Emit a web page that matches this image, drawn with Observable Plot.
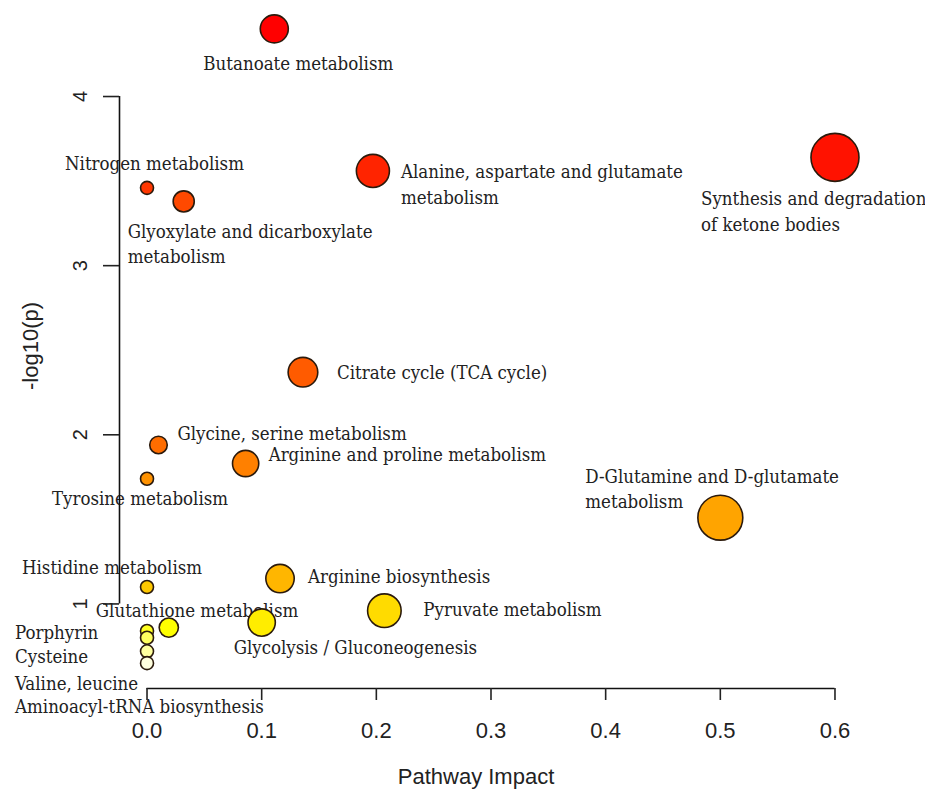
<!DOCTYPE html>
<html>
<head>
<meta charset="utf-8">
<script src="https://cdn.jsdelivr.net/npm/d3@7"></script>
<script src="https://cdn.jsdelivr.net/npm/@observablehq/plot@0.6"></script>
<style>
  html, body { margin: 0; padding: 0; background: #ffffff; }
  #chart svg { display: block; }
</style>
</head>
<body>
<div id="chart"></div>
<script>
// ---------------- data ----------------
const pathways = [
  "Butanoate metabolism",
  "Synthesis and degradation of ketone bodies",
  "Alanine, aspartate and glutamate metabolism",
  "Nitrogen metabolism",
  "Glyoxylate and dicarboxylate metabolism",
  "Citrate cycle (TCA cycle)",
  "Glycine, serine metabolism",
  "Arginine and proline metabolism",
  "Tyrosine metabolism",
  "D-Glutamine and D-glutamate metabolism",
  "Arginine biosynthesis",
  "Histidine metabolism",
  "Pyruvate metabolism",
  "Glycolysis / Gluconeogenesis",
  "Glutathione metabolism",
  "Porphyrin",
  "Cysteine",
  "Valine, leucine",
  "Aminoacyl-tRNA biosynthesis"
];
const impact = [0.111, 0.600, 0.197, 0.000, 0.032, 0.136, 0.010, 0.086, 0.000, 0.500,
                0.116, 0.000, 0.207, 0.100, 0.019, 0.000, 0.000, 0.000, 0.000];
const negLogP = [4.40, 3.64, 3.56, 3.46, 3.38, 2.37, 1.94, 1.83, 1.74, 1.51,
                 1.15, 1.10, 0.96, 0.89, 0.86, 0.84, 0.80, 0.72, 0.65];
const xTicks = [0, 0.1, 0.2, 0.3, 0.4, 0.5, 0.6];
const yTicks = [1, 2, 3, 4];
const xLabel = "Pathway Impact";
const yLabel = "-log10(p)";

// ---------------- label layout (pixel offsets from the circle centre) ----------------
const labelLayout = {
  "Butanoate metabolism": {dx: 24, dy: 33, anchor: "middle"},
  "Synthesis and degradation of ketone bodies": {dx: -134, dy: 52.5, split: "of ketone"},
  "Alanine, aspartate and glutamate metabolism": {dx: 28, dy: 12, split: "metabolism"},
  "Nitrogen metabolism": {dx: -82, dy: -26},
  "Glyoxylate and dicarboxylate metabolism": {dx: -56, dy: 41, split: "metabolism"},
  "Citrate cycle (TCA cycle)": {dx: 34, dy: -1},
  "Glycine, serine metabolism": {dx: 19, dy: -13},
  "Arginine and proline metabolism": {dx: 23, dy: -11},
  "Tyrosine metabolism": {dx: -95, dy: 18},
  "D-Glutamine and D-glutamate metabolism": {dx: -135, dy: -30, split: "metabolism"},
  "Arginine biosynthesis": {dx: 28, dy: -4},
  "Histidine metabolism": {dx: -125, dy: -21},
  "Pyruvate metabolism": {dx: 39, dy: -3},
  "Glycolysis / Gluconeogenesis": {dx: -28, dy: 23},
  "Glutathione metabolism": {dx: -73, dy: -19},
  "Porphyrin": {dx: -132, dy: 0},
  "Cysteine": {dx: -132, dy: 17},
  "Valine, leucine": {dx: -132, dy: 31},
  "Aminoacyl-tRNA biosynthesis": {dx: -132, dy: 42}
};

// ---------------- helpers ----------------
// R's heat.colors(n)
function heatColors(n) {
  const j = Math.floor(n / 4), i = n - j;
  const out = [];
  for (let k = 0; k < i; k++) {
    const h = i > 1 ? (k / (i - 1)) / 6 : 0;
    out.push(d3.rgb(255, Math.round(255 * h * 6), 0).formatHex());
  }
  for (let k = 0; k < j; k++) {
    const s = j > 1 ? (1 - 1 / (2 * j)) - k * ((1 - 1 / j) / (j - 1)) : 0.5;
    out.push(d3.rgb(255, 255, Math.round(255 * (1 - s))).formatHex());
  }
  return out;
}
function rExtend([a, b]) { const e = (b - a) * 0.04; return [a - e, b + e]; }

const data = pathways.map((name, i) => ({name, impact: impact[i], p: negLogP[i]}));
const order = [...data].sort((a, b) => b.p - a.p).map(d => d.name);
const xDomain = rExtend(d3.extent(impact));
const yDomain = rExtend(d3.extent(negLogP));

const serif = "'DejaVu Serif Condensed', 'DejaVu Serif', serif";
const sans = "'Liberation Sans', Arial, Helvetica, sans-serif";

const labelMarks = data.map(d => {
  const L = labelLayout[d.name];
  const txt = L.split ? d.name.replace(" " + L.split, "\n" + L.split) : d.name;
  return Plot.text([d], {
    x: "impact", y: "p", text: () => txt,
    dx: L.dx, dy: L.dy, textAnchor: L.anchor || "start", lineAnchor: "middle",
    lineHeight: 1.36, fontSize: 18.5, fontFamily: serif, fill: "#222"
  });
});

const chart = Plot.plot({
  width: 925, height: 791,
  marginLeft: 119, marginRight: 63, marginTop: 3, marginBottom: 103,
  x: {domain: xDomain},
  y: {domain: yDomain},
  r: {type: "sqrt", domain: [0, 0.6], range: [6.5, 24]},
  color: {type: "ordinal", domain: order, range: heatColors(order.length)},
  style: {background: "#ffffff", fontFamily: sans, overflow: "visible"},
  marks: [
    ...labelMarks,
    Plot.dot(data, {x: "impact", y: "p", r: "impact", fill: "name", stroke: "#2b1a0c", strokeWidth: 1.6}),
    Plot.ruleX([xDomain[0]], {y1: yTicks[0], y2: yTicks[yTicks.length - 1], stroke: "#111", strokeWidth: 1.6}),
    Plot.axisY({ticks: yTicks, tickSize: 16, tickPadding: 17, tickRotate: -90, fontSize: 20,
                tickFormat: d3.format("d"),
                color: "#222", strokeWidth: 1.6, label: null, fontFamily: sans}),
    Plot.ruleY([yDomain[0]], {x1: xTicks[0], x2: xTicks[xTicks.length - 1], stroke: "#111", strokeWidth: 1.6}),
    Plot.axisX({ticks: xTicks, tickSize: 12, tickPadding: 22, tickFormat: d3.format(".1f"), fontSize: 22,
                color: "#222", strokeWidth: 1.6, label: null, fontFamily: sans}),
    Plot.text([yLabel], {frameAnchor: "left", textAnchor: "middle", rotate: -90, dx: -89, fontSize: 22,
                         fill: "#222", fontFamily: sans}),
    Plot.text([xLabel], {frameAnchor: "bottom", dx: -15, dy: 95, fontSize: 22, fill: "#222", fontFamily: sans})
  ]
});
document.getElementById("chart").appendChild(chart);
</script>
</body>
</html>
